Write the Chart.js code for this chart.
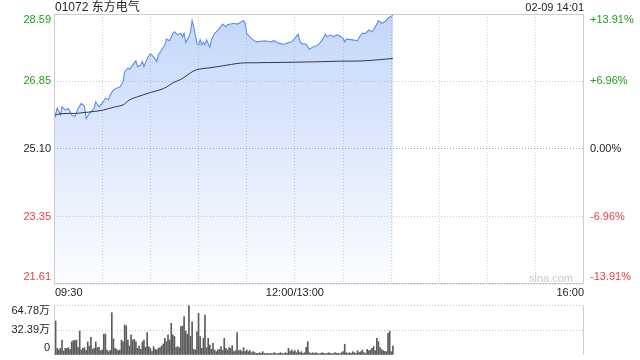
<!DOCTYPE html>
<html>
<head>
<meta charset="utf-8">
<script src="https://cdn.jsdelivr.net/npm/chart.js@4.4.1/dist/chart.umd.min.js"></script>
<style>
body { margin: 0; background: #fff; }
#wrap { position: relative; width: 640px; height: 360px; }
canvas { position: absolute; left: 0; }
#price { top: 0; }
#vol { top: 300px; }
</style>
</head>
<body>
<div id="wrap">
<canvas id="price" width="640" height="300"></canvas>
<canvas id="vol" width="640" height="60"></canvas>
</div>
<script>
const stockTitle = '01072 东方电气';
const stampText = '02-09 14:01';
const prevClose = 25.10;
const sessionMinutes = 330;
const timeLabels = ['09:30', '12:00/13:00', '16:00'];
const timeMarks = [0, 150, 330];
const priceTicks = [21.61, 23.35, 25.10, 26.85, 28.59];
const pctTicks = [-13.91, -6.96, 0, 6.96, 13.91];
const volTicks = [0, 32.39, 64.78];
const volUnit = '万';
const watermark = 'sina.com';

// minute index since 09:30 (lunch break removed) and price
const priceMin = [0, 2, 4, 5, 7, 9, 11, 13, 15, 17,
    19, 20, 22, 25, 26, 28, 30, 32, 34, 35,
    37, 39, 41, 43, 44, 46, 47, 49, 51, 52,
    54, 55, 56, 58, 60, 62, 64, 65, 67, 69,
    70, 72, 74, 75, 77, 79, 80, 81, 82, 84,
    85, 86, 87, 89, 90, 91, 92, 93, 94, 95,
    97, 98, 100, 101, 103, 105, 107, 108, 110, 112,
    114, 116, 118, 119, 120, 122, 124, 126, 131, 135,
    137, 140, 143, 146, 148, 150, 152, 153, 154, 157,
    159, 161, 163, 165, 167, 169, 170, 172, 174, 176,
    178, 180, 181, 182, 186, 189, 190, 192, 194, 196,
    198, 199, 200, 202, 204, 206, 208, 211];
const priceVal = [25.85, 26.16, 25.98, 26.19, 26.11, 26.15, 25.98, 25.94, 26.15, 26.28,
    26.21, 25.89, 26.02, 26.15, 26.32, 26.19, 26.28, 26.41, 26.38, 26.50,
    26.63, 26.67, 26.70, 26.84, 27.10, 27.19, 27.16, 27.27, 27.38, 27.23,
    27.27, 27.36, 27.23, 27.44, 27.56, 27.49, 27.36, 27.53, 27.66, 27.79,
    27.94, 27.90, 28.09, 28.13, 28.05, 28.09, 28.00, 28.09, 27.85, 28.00,
    28.13, 28.42, 28.26, 27.83, 27.79, 27.92, 27.79, 27.87, 27.79, 27.92,
    27.73, 27.92, 28.09, 28.13, 28.22, 28.33, 28.26, 28.31, 28.33, 28.35,
    28.33, 28.37, 28.42, 28.35, 28.09, 28.00, 27.92, 27.87, 27.90, 27.87,
    27.90, 27.83, 27.81, 27.85, 27.87, 27.96, 28.07, 27.90, 27.83, 27.81,
    27.68, 27.73, 27.76, 27.81, 27.92, 28.07, 28.00, 28.05, 28.00, 28.05,
    28.02, 27.96, 27.87, 27.94, 27.92, 27.90, 27.99, 28.09, 28.09, 28.18,
    28.13, 28.18, 28.25, 28.42, 28.35, 28.39, 28.48, 28.56];

// average price line
const avgMin = [0, 1, 8, 14, 18, 25, 31, 37, 43, 47,
    52, 60, 66, 70, 74, 79, 83, 87, 91, 97,
    105, 116, 126, 158, 178, 193, 211];
const avgVal = [25.85, 25.98, 26.02, 26.02, 26.04, 26.07, 26.11, 26.18, 26.24, 26.37,
    26.45, 26.56, 26.63, 26.70, 26.81, 26.90, 27.01, 27.12, 27.17, 27.20,
    27.25, 27.32, 27.33, 27.35, 27.37, 27.38, 27.44];

// volume per minute, in 万
const volumes = [34.5, 44, 8.6, 6.5, 8.6, 19.4, 5, 8.6, 8.6, 9.5,
    7, 17, 18.6, 18.6, 19.4, 9.5, 31, 6.5, 8.6, 9.5,
    5.6, 17, 11.6, 23, 7.3, 8.6, 17, 9.5, 10.4, 5.6,
    6.5, 27, 27, 6.5, 4.3, 6, 54.8, 20.7, 8.6, 7.3,
    5.6, 6.5, 19.4, 17, 38.9, 37.6, 19.4, 11.6, 26, 19.4,
    20.3, 17, 8.6, 11.6, 7.3, 17, 19.4, 10, 29, 10.8,
    8.6, 4.3, 10.8, 7.3, 6.5, 8.6, 9.5, 11.6, 14.2, 21.6,
    17.3, 26, 19.4, 41, 26, 24, 9.5, 10.8, 9.5, 36.7,
    37.6, 49.7, 31, 27, 64, 24, 43, 7.3, 6.5, 30,
    54, 24, 8.6, 21.6, 51.8, 9.5, 21.6, 12.9, 7.3, 15.1,
    6.5, 4.3, 6.5, 7.3, 10.8, 6, 21.6, 8.6, 6.5, 9.5,
    8.6, 12, 4.3, 5.6, 29, 5.6, 6.5, 4.3, 9.5, 4.3,
    6.5, 4.3, 5.6, 3, 4.3, 3, 2.2, 2.2, 3, 2.2,
    4.3, 2.2, 1.5, 2.2, 1.5, 2.2, 1.5, 3, 2.2, 1.5,
    2.2, 3, 2.2, 1.5, 3, 2.2, 8.6, 4.3, 6.5, 4.3,
    5.6, 3, 6.5, 3, 4.3, 2.2, 3, 10, 17.3, 3,
    2.2, 3, 2.2, 3, 2.2, 1.5, 2.2, 3, 2.2, 1.5,
    2.2, 3, 2.2, 1.5, 2.2, 3, 2.2, 2.2, 1.5, 3,
    4.3, 14, 3, 2.2, 3, 2.2, 4.3, 3, 2.2, 5.6,
    3, 4.3, 6.5, 3, 2.2, 7.3, 5.6, 6.5, 8.6, 11,
    5.6, 21.6, 17.3, 9.5, 7, 5.6, 4.3, 4.3, 28, 31,
    4.3, 11.7];

const GREEN = '#1ca21c';
const RED = '#f03c3c';
const TXT = '#222';
const FONT = '"Liberation Sans", Arial, "Noto Sans CJK SC", sans-serif';

function tickColor(v, mid) {
    if (v > mid + 0.001) return GREEN;
    if (v < mid - 0.001) return RED;
    return TXT;
}

function pct(v) {
    return (v > 0 ? '+' : '') + v.toFixed(2) + '%';
}

// keep first/last labels inside the plot area
function clampY(y, a) {
    return Math.min(Math.max(y, a.top + 6), a.bottom - 7);
}

function gridMinutes() {
    let out = [];
    for (let m = 30; m < sessionMinutes; m += 30) out.push({value: m});
    return out;
}

const framePlugin = {
    id: 'frame',
    afterDatasetsDraw(chart, args, opts) {
        const ctx = chart.ctx, a = chart.chartArea;
        const l = Math.round(a.left) + 0.5, r = Math.round(a.right) - 0.5;
        const t = Math.round(a.top) + 0.5, b = Math.round(a.bottom) - 0.5;
        ctx.save();
        ctx.strokeStyle = '#cccccc';
        ctx.lineWidth = 1;
        ctx.beginPath();
        ctx.moveTo(l, b); ctx.lineTo(l, t);
        if (opts.full) { ctx.lineTo(r, t); ctx.lineTo(r, b); ctx.lineTo(l, b); }
        else { ctx.moveTo(r, t); ctx.lineTo(r, b); }
        ctx.stroke();
        ctx.restore();
    }
};

const priceText = {
    id: 'priceText',
    afterDraw(chart) {
        const {ctx, chartArea: a, scales} = chart;
        ctx.save();
        ctx.textBaseline = 'middle';
        ctx.font = '12px ' + FONT;
        ctx.fillStyle = TXT;
        ctx.textAlign = 'left';
        ctx.fillText(stockTitle, a.left + 1, 8);
        ctx.font = '11px ' + FONT;
        ctx.textAlign = 'right';
        ctx.fillText(stampText, a.right, 8);

        priceTicks.forEach(v => {
            ctx.fillStyle = tickColor(v, prevClose);
            ctx.textAlign = 'right';
            ctx.fillText(v.toFixed(2), a.left - 3, clampY(scales.y.getPixelForValue(v), a));
        });
        pctTicks.forEach(v => {
            ctx.fillStyle = tickColor(v, 0);
            ctx.textAlign = 'left';
            ctx.fillText(pct(v), a.right + 6, clampY(scales.y1.getPixelForValue(v), a));
        });

        ctx.fillStyle = TXT;
        const aligns = ['left', 'center', 'right'];
        for (let i = 0; i < timeLabels.length; i++) {
            ctx.textAlign = aligns[i];
            let x = scales.x.getPixelForValue(timeMarks[i]);
            if (i == 0) x += 1;
            ctx.fillText(timeLabels[i], x, a.bottom + 9);
        }

        ctx.fillStyle = '#c8c8c8';
        ctx.textAlign = 'right';
        ctx.fillText(watermark, a.right - 11, a.bottom - 5);
        ctx.restore();
    }
};

const volText = {
    id: 'volText',
    afterDraw(chart) {
        const {ctx, chartArea: a, scales} = chart;
        ctx.save();
        ctx.textBaseline = 'middle';
        ctx.font = '11px ' + FONT;
        ctx.fillStyle = TXT;
        ctx.textAlign = 'right';
        volTicks.forEach(v => {
            const txt = v == 0 ? '0' : v.toFixed(2) + volUnit;
            ctx.fillText(txt, a.left - 4, clampY(scales.y.getPixelForValue(v), a));
        });
        ctx.restore();
    }
};

// relleno semitransparente para que se vea la rejilla
function fillGradient(context) {
    const a = context.chart.chartArea;
    if (!a) return 'rgba(91,143,240,0.2)';
    const g = context.chart.ctx.createLinearGradient(0, a.top, 0, a.bottom);
    g.addColorStop(0, 'rgba(91,143,240,0.36)');
    g.addColorStop(1, 'rgba(91,143,240,0.02)');
    return g;
}

let pricePoints = [];
for (let i = 0; i < priceMin.length; i++) {
    pricePoints.push({x: priceMin[i], y: priceVal[i]});
}
let avgPoints = [];
for (let i = 0; i < avgMin.length; i++) {
    avgPoints.push({x: avgMin[i], y: avgVal[i]});
}

new Chart(document.getElementById('price'), {
    type: 'line',
    data: {
        datasets: [{
            data: avgPoints, //linea de precio medio
            borderColor: '#2f3848',
            borderWidth: 1,
            pointRadius: 0,
            fill: false,
            tension: 0.3
        }, {
            data: pricePoints, //precio
            borderColor: '#5b8ff0',
            borderWidth: 1.1,
            pointRadius: 0,
            fill: 'start',
            backgroundColor: fillGradient,
            tension: 0
        }]
    },
    options: {
        animation: false,
        responsive: false,
        devicePixelRatio: 1,
        events: [],
        layout: {padding: {top: 14}},
        plugins: {
            legend: {display: false},
            tooltip: {enabled: false},
            frame: {full: true}
        },
        scales: {
            x: {
                type: 'linear',
                min: 0,
                max: sessionMinutes,
                afterBuildTicks: s => { s.ticks = gridMinutes(); },
                afterFit: s => { s.height = 16; },
                ticks: {display: false},
                grid: {color: '#d0d0d0', drawTicks: false},
                border: {display: false, dash: [1, 2]}
            },
            y: {
                min: priceTicks[0],
                max: priceTicks[priceTicks.length - 1],
                afterBuildTicks: s => { s.ticks = priceTicks.map(v => ({value: v})); },
                afterFit: s => { s.width = 54; },
                ticks: {display: false},
                grid: {
                    color: c => (c.tick && Math.abs(c.tick.value - prevClose) < 0.001) ? '#a8a8a8' : '#cdcdcd',
                    drawTicks: false
                },
                border: {display: false, dash: [1, 2]}
            },
            y1: {
                position: 'right',
                min: pctTicks[0],
                max: pctTicks[pctTicks.length - 1],
                afterBuildTicks: s => { s.ticks = pctTicks.map(v => ({value: v})); },
                afterFit: s => { s.width = 56; },
                ticks: {display: false},
                grid: {display: false},
                border: {display: false}
            }
        }
    },
    plugins: [framePlugin, priceText]
});

new Chart(document.getElementById('vol'), {
    type: 'bar',
    data: {
        datasets: [{
            data: volumes.map((v, i) => ({x: i, y: v})),
            backgroundColor: '#5c5c5c',
            borderWidth: 0,
            barThickness: 1
        }]
    },
    options: {
        animation: false,
        responsive: false,
        devicePixelRatio: 1,
        events: [],
        layout: {padding: {top: 5}},
        plugins: {
            legend: {display: false},
            tooltip: {enabled: false},
            frame: {full: false}
        },
        scales: {
            x: {
                type: 'linear',
                min: 0,
                max: sessionMinutes,
                offset: false,
                afterFit: s => { s.height = 5; },
                ticks: {display: false},
                grid: {display: false, offset: false},
                border: {display: false}
            },
            y: {
                min: volTicks[0],
                max: volTicks[volTicks.length - 1],
                afterBuildTicks: s => { s.ticks = volTicks.map(v => ({value: v})); },
                afterFit: s => { s.width = 54; },
                ticks: {display: false},
                grid: {
                    color: c => (c.tick && c.tick.value == 0) ? 'rgba(0,0,0,0)' : '#c4c4c4',
                    drawTicks: false
                },
                border: {display: false, dash: [1, 2]}
            },
            yR: {
                position: 'right',
                afterFit: s => { s.width = 56; },
                ticks: {display: false},
                grid: {display: false},
                border: {display: false}
            }
        }
    },
    plugins: [framePlugin, volText]
});
</script>
</body>
</html>
